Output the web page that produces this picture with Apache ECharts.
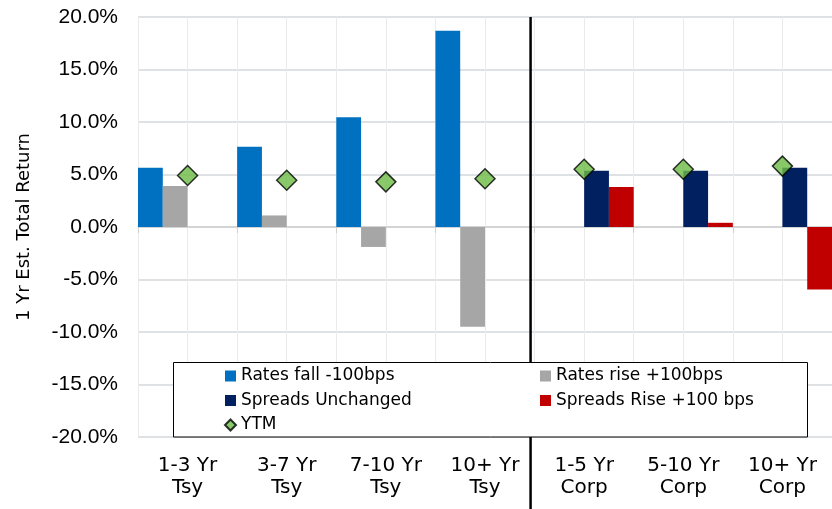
<!DOCTYPE html>
<html>
<head>
<meta charset="utf-8">
<script src="https://cdn.jsdelivr.net/npm/echarts@6/dist/echarts.min.js"></script>
<style>html,body{margin:0;padding:0;background:#fff}#c{width:832px;height:509px}</style>
</head>
<body>
<div id="c"></div>
<script>
const categories = ['1-3 Yr\nTsy', '3-7 Yr\nTsy', '7-10 Yr\nTsy', '10+ Yr\nTsy', '1-5 Yr\nCorp', '5-10 Yr\nCorp', '10+ Yr\nCorp'];
const ratesFall = [5.65, 7.65, 10.45, 18.7, null, null, null];
const ratesRise = [3.9, 1.1, -1.9, -9.5, null, null, null];
const spreadsUnchanged = [null, null, null, null, 5.35, 5.35, 5.65];
const spreadsRise = [null, null, null, null, 3.8, 0.4, -5.95];
const ytm = [4.9, 4.45, 4.3, 4.6, 5.5, 5.5, 5.8];
const yTicks = { min: -20, max: 20, interval: 5 };
const FONT = 'DejaVu Sans';

const chart = echarts.init(document.getElementById('c'), null, { renderer: 'canvas' });
const barBase = { type: 'bar', barGap: '0%', barCategoryGap: '0%', xAxisIndex: 0 };
const option = {
  animation: false,
  backgroundColor: '#fff',
  textStyle: { fontFamily: FONT },
  grid: { left: 138, top: 17, right: -6, bottom: 72, containLabel: false },
  xAxis: [
    {
      type: 'category', data: categories, position: 'bottom',
      axisLine: { show: false, onZero: false }, axisTick: { show: false },
      splitLine: { show: false },
      axisLabel: { color: '#000', fontFamily: FONT, fontSize: 20, lineHeight: 22, margin: 18, interval: 0 }
    },
    {
      type: 'category', data: categories, position: 'bottom',
      axisLine: { show: true, onZero: true, lineStyle: { color: '#d0d0d0', width: 1.5 } },
      axisTick: { show: true, length: 6, lineStyle: { color: '#d0d0d0' } },
      axisLabel: { show: false }, splitLine: { show: false }
    },
    {
      type: 'value', min: 0, max: 14, interval: 1, position: 'top',
      axisLine: { show: false }, axisTick: { show: false }, axisLabel: { show: false },
      splitLine: { show: true, lineStyle: { color: '#ebebeb', width: 1 } }
    }
  ],
  yAxis: {
    type: 'value', min: yTicks.min, max: yTicks.max, interval: yTicks.interval,
    name: '1 Yr Est. Total Return', nameLocation: 'middle', nameGap: 105,
    nameTextStyle: { color: '#000', fontFamily: FONT, fontSize: 18 },
    axisLine: { show: false }, axisTick: { show: false },
    axisLabel: { color: '#000', fontFamily: 'Liberation Sans', fontSize: 21, margin: 20, formatter: v => v.toFixed(1) + '%' },
    splitLine: { show: true, lineStyle: { color: '#d5d8dc', width: 1.5 } }
  },
  legend: [
    {
      orient: 'vertical', left: 224, top: 367.5, padding: 0, itemGap: 7.5,
      itemWidth: 11, itemHeight: 11, z: 10,
      textStyle: { color: '#000', fontFamily: FONT, fontSize: 17, lineHeight: 17 },
      data: [{ name: 'Rates fall -100bps', icon: 'rect' }, { name: 'Spreads Unchanged', icon: 'rect' }, { name: 'YTM', icon: 'diamond' }]
    },
    {
      orient: 'vertical', left: 540, top: 367.5, padding: 0, itemGap: 7.5,
      itemWidth: 11, itemHeight: 11, z: 10,
      textStyle: { color: '#000', fontFamily: FONT, fontSize: 17, lineHeight: 17 },
      data: [{ name: 'Rates rise +100bps', icon: 'rect' }, { name: 'Spreads Rise +100 bps', icon: 'rect' }]
    }
  ],
  series: [
    Object.assign({}, barBase, { name: 'Rates fall -100bps', data: ratesFall, itemStyle: { color: '#0070c0' } }),
    Object.assign({}, barBase, { name: 'Rates rise +100bps', data: ratesRise, itemStyle: { color: '#a6a6a6' } }),
    Object.assign({}, barBase, { name: 'Spreads Unchanged', data: spreadsUnchanged, itemStyle: { color: '#002060' } }),
    Object.assign({}, barBase, { name: 'Spreads Rise +100 bps', data: spreadsRise, itemStyle: { color: '#c00000' } }),
    {
      name: 'YTM', type: 'scatter', xAxisIndex: 0, data: ytm, symbol: 'diamond', symbolSize: 20, z: 5,
      itemStyle: { color: '#6cbb45', borderColor: '#000', borderWidth: 1.5 }
    }
  ]
};
chart.setOption(option);

// separator between Treasury and Corporate groups, at the category boundary
const c3 = chart.convertToPixel({ xAxisIndex: 0 }, 3);
const c4 = chart.convertToPixel({ xAxisIndex: 0 }, 4);
const sepX = (c3 + c4) / 2 - 4;
const topY = chart.convertToPixel({ yAxisIndex: 0 }, yTicks.max);
const botY = chart.convertToPixel({ yAxisIndex: 0 }, yTicks.min);
chart.setOption({
  graphic: [
    { type: 'line', z: 3, shape: { x1: sepX, y1: topY, x2: sepX, y2: 509 }, style: { stroke: '#000', lineWidth: 2.5 } },
    { type: 'rect', z: 8, shape: { x: 173.5, y: 362.5, width: 634, height: botY - 362.5 }, style: { fill: '#fff', stroke: '#000', lineWidth: 1 } }
  ]
});
</script>
</body>
</html>
